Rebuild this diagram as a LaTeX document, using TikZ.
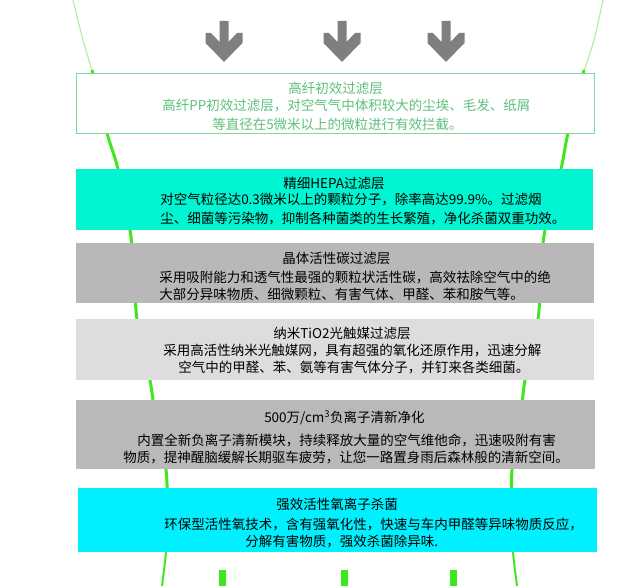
\documentclass[tikz,border=0pt]{standalone}
\usepackage{fontspec}
\setmainfont{Noto Sans CJK SC}
\usepackage{tikz}

\definecolor{stemgreen}{HTML}{3FE81E}
\definecolor{palegreen}{HTML}{B2F29A}
\definecolor{framegreen}{HTML}{80D89C}
\definecolor{textgreen}{HTML}{5EC07E}
\definecolor{hepateal}{HTML}{00F5D2}
\definecolor{carbongray}{HTML}{B9B7B9}
\definecolor{tiogray}{HTML}{DEDCDE}
\definecolor{iongray}{HTML}{BAB8BA}
\definecolor{oxycyan}{HTML}{00F0FF}
\definecolor{arrowgray}{HTML}{7F7F7F}

\tikzset{
  txt/.style={anchor=west,inner sep=0pt,font=\fontsize{13.5}{16}\selectfont},
  chev/.style={fill=arrowgray}
}

\begin{document}
\begin{tikzpicture}[x=1pt,y=-1pt,line width=.5pt]
\path[use as bounding box,fill=white] (0,0) rectangle (632,586);
% outline of the cartridge
\draw[palegreen,line width=1.2pt] plot[smooth] coordinates {(73,0) (83,40) (95,80)};
\draw[palegreen,line width=1.2pt] plot[smooth] coordinates {(603,0) (594,40) (581,80)};
\draw[stemgreen,line width=3pt] plot[smooth] coordinates {(92,70) (107,133) (118,169) (130,230) (134,270) (137,319) (150,380) (157,430) (166,470) (167,495)};
\draw[stemgreen,line width=3pt] plot[smooth] coordinates {(584,70) (568,133) (561,169) (545,230) (541,270) (538,319) (525,380) (519,430) (512,470) (512,495)};
\draw[stemgreen,line width=2pt] plot[smooth] coordinates {(167,485) (167,520) (166,552) (162,586)};
\draw[stemgreen,line width=2pt] plot[smooth] coordinates {(512,485) (512,520) (513,552) (517,586)};
% air coming in
\fill[chev,shift={(224,0)}] (-4.5,21) -- (4.5,21) -- (4.5,42) -- (13,33) -- (18.5,33) -- (18.5,43) -- (0,62) -- (-18.5,43) -- (-18.5,33) -- (-13,33) -- (-4.5,42) -- cycle;
\fill[chev,shift={(342,0)}] (-4.5,21) -- (4.5,21) -- (4.5,42) -- (13,33) -- (18.5,33) -- (18.5,43) -- (0,62) -- (-18.5,43) -- (-18.5,33) -- (-13,33) -- (-4.5,42) -- cycle;
\fill[chev,shift={(446,0)}] (-4.5,21) -- (4.5,21) -- (4.5,42) -- (13,33) -- (18.5,33) -- (18.5,43) -- (0,62) -- (-18.5,43) -- (-18.5,33) -- (-13,33) -- (-4.5,42) -- cycle;
% layers
\draw[framegreen,fill=white] (76,73) rectangle (594,133);
\node[txt,text=textgreen] (pptitle) at (288,88) {高纤初效过滤层};
\node[txt,text=textgreen] (ppa) at (162,106) {高纤PP初效过滤层，对空气气中体积较大的尘埃、毛发、纸屑};
\node[txt,text=textgreen] (ppb) at (212,124) {等直径在5微米以上的微粒进行有效拦截。};
\fill[hepateal] (76,169) rectangle (593,230);
\node[txt] (hepatitle) at (283,183) {精细HEPA过滤层};
\node[txt] (hepaa) at (160,200) {对空气粒径达0.3微米以上的颗粒分子，除率高达99.9\%。过滤烟};
\node[txt] (hepab) at (160,218) {尘、细菌等污染物，抑制各种菌类的生长繁殖，净化杀菌双重功效。};
\fill[carbongray] (76,243) rectangle (594,303);
\node[txt] (carbontitle) at (282,258) {晶体活性碳过滤层};
\node[txt] (carbona) at (159,277) {采用吸附能力和透气性最强的颗粒状活性碳，高效祛除空气中的绝};
\node[txt] (carbonb) at (159,294) {大部分异味物质、细微颗粒、有害气体、甲醛、苯和胺气等。};
\fill[tiogray] (76,319) rectangle (594,380);
\node[txt] (tiotitle) at (273,333) {纳米TiO2光触媒过滤层};
\node[txt] (tioa) at (163,351) {采用高活性纳米光触媒网，具有超强的氧化还原作用，迅速分解};
\node[txt] (tiob) at (178,367) {空气中的甲醛、苯、氨等有害气体分子，并钉来各类细菌。};
\fill[iongray] (76,400) rectangle (595,469);
\node[txt] (iontitle) at (264,418) {500万/cm\textsuperscript{3}负离子清新净化};
\node[txt] (iona) at (137,440) {内置全新负离子清新模块，持续释放大量的空气维他命，迅速吸附有害};
\node[txt] (ionb) at (123,458) {物质，提神醒脑缓解长期驱车疲劳，让您一路置身雨后森林般的清新空间。};
\fill[oxycyan] (78,488) rectangle (597,552);
\node[txt] (oxytitle) at (276,504) {强效活性氧离子杀菌};
\node[txt] (oxya) at (164,524) {环保型活性氧技术，含有强氧化性，快速与车内甲醛等异味物质反应，};
\node[txt] (oxyb) at (245,542) {分解有害物质，强效杀菌除异味.};
% clean air going out
\fill[stemgreen] (219,570) rectangle (226,586);
\fill[stemgreen] (341,570) rectangle (348,586);
\fill[stemgreen] (450,570) rectangle (457,586);
\end{tikzpicture}
\end{document}
